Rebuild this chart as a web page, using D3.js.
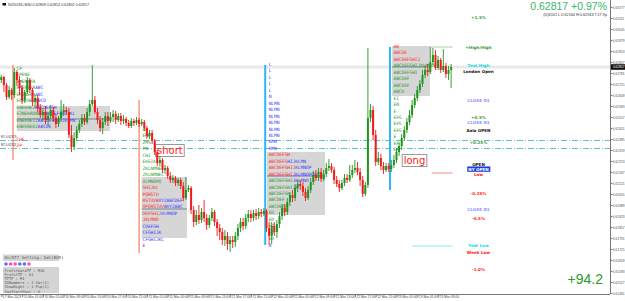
<!DOCTYPE html>
<html><head><meta charset="utf-8">
<script src="https://cdn.jsdelivr.net/npm/d3@7/dist/d3.min.js"></script>
<style>html,body{margin:0;padding:0;background:#fff;}svg{display:block;}</style>
</head><body><svg id="c" width="625" height="301"></svg>
<script>
// ---------- DATA ----------
const opens=[62739,62757,62709,62637,62679,62649,62787,62739,62691,62619,62667,62739,62679,62607,62631,62571,62529,62547,62499,62523,62559,62511,62475,62511,62547,62559,62547,62409,62337,62391,62439,62475,62511,62487,62547,62595,62619,62547,62499,62451,62487,62523,62493,62517,62535,62499,62523,62493,62505,62481,62463,62493,62481,62499,62475,62487,62451,62403,62421,62373,62307,62241,62259,62199,62211,62163,62139,62151,62121,62139,62103,62031,62079,62091,61959,61887,61929,61899,61947,61911,61869,61911,61947,61887,61851,61827,61779,61803,61755,61779,61767,61803,61851,61887,61863,61911,61935,61911,61941,61923,61947,61935,61953,61851,61803,61863,61827,61875,61923,61971,61947,62007,62049,62031,62091,62115,62103,62067,62031,62079,62127,62169,62151,62187,62145,62175,62211,62223,62199,62139,62115,62091,62121,62151,62139,62169,62199,62211,62187,62139,62055,62109,62511,62559,62409,62247,62271,62223,62199,62223,62205,62229,62259,62307,62343,62391,62439,62487,62529,62589,62631,62679,62715,62769,62799,62787,62847,62889,62811,62859,62799,62823,62775,62799];
const highs=[62769,62763,62721,62703,62691,62811,62799,62763,62709,62679,62757,62751,62691,62649,62649,62595,62571,62583,62547,62589,62577,62535,62523,62619,62595,62577,62571,62469,62427,62463,62499,62535,62535,62571,62619,62829,62643,62571,62523,62511,62547,62547,62547,62559,62553,62541,62541,62529,62517,62499,62511,62505,62517,62511,62505,62499,62463,62439,62439,62385,62319,62283,62271,62229,62223,62187,62169,62163,62151,62151,62127,62157,62109,62103,61983,61959,61989,61971,62019,61935,61929,61971,61959,61905,61875,61851,61839,61827,61803,61803,61827,61875,61911,61911,61935,61959,61959,61959,61965,61971,61965,61971,61965,61887,61887,61887,61899,61947,61995,61995,62031,62067,62079,62115,62139,62139,62127,62091,62103,62151,62193,62199,62211,62211,62199,62241,62265,62241,62217,62163,62139,62139,62175,62175,62229,62229,62259,62247,62211,62163,62127,62931,62595,62583,62439,62307,62295,62247,62241,62241,62259,62289,62331,62367,62415,62463,62511,62559,62619,62655,62703,62739,62799,62829,62835,62937,62931,62919,62883,62871,62925,62841,62823,62835];
const lows=[62721,62667,62619,62625,62619,62631,62703,62649,62595,62601,62655,62661,62583,62571,62547,62511,62499,62475,62463,62505,62487,62451,62457,62493,62523,62529,62391,62307,62319,62373,62421,62457,62469,62475,62523,62583,62535,62475,62427,62415,62469,62463,62481,62487,62475,62487,62469,62475,62463,62451,62451,62463,62469,62457,62463,62433,62385,62385,62355,62289,62223,62223,62181,62175,62145,62121,62121,62103,62103,62085,62013,62019,62067,61935,61857,61869,61875,61881,61887,61839,61851,61893,61863,61803,61779,61749,61743,61719,61707,61731,61737,61779,61827,61839,61845,61887,61887,61893,61899,61905,61917,61923,61827,61749,61755,61803,61791,61851,61899,61923,61929,61983,62007,62013,62067,62079,62043,62013,62019,62061,62109,62133,62133,62127,62133,62157,62193,62181,62115,62097,62067,62079,62103,62121,62127,62151,62181,62169,62103,62037,62043,62091,62487,62379,62223,62229,62199,62175,62187,62187,62187,62211,62241,62283,62319,62373,62421,62469,62511,62571,62613,62661,62697,62751,62763,62775,62829,62799,62799,62781,62787,62751,62739,62691];
const closes=[62757,62709,62637,62679,62649,62787,62739,62691,62619,62667,62739,62679,62607,62631,62571,62529,62547,62499,62523,62559,62511,62475,62511,62547,62559,62547,62409,62337,62391,62439,62475,62511,62487,62547,62595,62619,62547,62499,62451,62487,62523,62493,62517,62535,62499,62523,62493,62505,62481,62463,62493,62481,62499,62475,62487,62451,62403,62421,62373,62307,62241,62259,62199,62211,62163,62139,62151,62121,62139,62103,62031,62079,62091,61959,61887,61929,61899,61947,61911,61869,61911,61947,61887,61851,61827,61779,61803,61755,61779,61767,61803,61851,61887,61863,61911,61935,61911,61941,61923,61947,61935,61953,61851,61803,61863,61827,61875,61923,61971,61947,62007,62049,62031,62091,62115,62103,62067,62031,62079,62127,62169,62151,62187,62145,62175,62211,62223,62199,62139,62115,62091,62121,62151,62139,62169,62199,62211,62187,62139,62055,62109,62511,62559,62409,62247,62271,62223,62199,62223,62205,62229,62259,62307,62343,62391,62439,62487,62529,62589,62631,62679,62715,62769,62799,62787,62847,62889,62811,62859,62799,62823,62775,62799,62817];
const priceTicks=[0.63177,0.63111,0.63045,0.62979,0.62913,0.62847,0.62781,0.62715,0.62649,0.62583,0.62517,0.62451,0.62385,0.62319,0.62253,0.62187,0.62121,0.62055,0.61989,0.61923,0.61857,0.61791,0.61725,0.61659,0.61593,0.61527,0.61461];
const timeLabels=["17 Mar 2023","20 Mar 01:00","20 Mar 05:00","20 Mar 09:00","20 Mar 13:00","20 Mar 17:00","20 Mar 21:00","21 Mar 01:00","21 Mar 05:00","21 Mar 09:00","21 Mar 13:00","21 Mar 17:00","21 Mar 21:00","22 Mar 01:00","22 Mar 05:00","22 Mar 09:00","22 Mar 13:00","22 Mar 17:00","22 Mar 21:00","23 Mar 01:00","23 Mar 05:00","23 Mar 09:00"];
const levelNames=["+1.5%","+High/High","Yest High","London Open","CLOSE D1","+0.5%","CLOSE D1","Asia OPEN","+0.25%","OPEN","NY OPEN","Low","-0.25%","CLOSE D1","-0.5%","Yest Low","Week Low","-1.0%"];
const levelPrices=[0.63111,0.62931,0.62823,0.62787,0.62613,0.62511,0.62481,0.62433,0.62361,0.62229,0.62202,0.62169,0.62055,0.61959,0.61905,0.61743,0.61701,0.61599];
const levelKinds=["up","up","yest","sess","close","up","close","sess","up","sess","ny","down","down","close","down","yest","down","down"];
const lastPrice=0.62817, dayChange="+0.97%";
const profit="+94.2";
const signalBars=[4.5,53,101.5,149.5];
const signalKinds=["sell","sell","buy","buy"];
const signalTop=[0.62829,0.62619,0.62829,0.62937];
const signalBottom=[0.62259,0.61701,0.61749,0.62079];
const boxStart=[6,54,102.2,150.3], boxEnd=[41.8,71.4,124.5,164.9];
const boxTop=[0.62583,0.62157,0.62307,0.62943], boxBottom=[0.62433,0.61791,0.61929,0.62643];
const boxMid=[0.62505,0.61965,0.62163,0.62817];
const pivotLines=[0.62379,0.62331];
const pivotNames=["R1 0.62379","R2 0.62331"];
const settings=["ProfitDataTF : M30","ProfitTF     : D1","TFTF         : M1","IDNumbers    : 1 Var(1)","ShowRight    : 1 Pip(1)","DayStartHour : 0"];
const colA=[[["CP","g"]],[["EPENE","g"]],[["EMENEKR","g"]],[["EMENEKR","g"],["ABC","b"]],[["EMENEKR","g"],["ABC","b"]],[["ENEKREZ","g"],["ABCD","b"]],[["ENEKREZ","g"],["ABCDEFGH","b"]],[["E2NEKRDNEZ","g"],["ABCDEFGHIJKL","b"]],[["ENEKREZZ","g"],["ABCDEFGHIJKLMN","b"]],[["ENEKREDZ","g"],["ABCDE","b"]],[["",""]],[["CHE","r"]],[["ZP","r"]]];
const colB=[[["AB","g"]],[["ENE","g"]],[["2MS","g"]],[["PN","g"]],[["CHI","g"]],[["EKEIK","g"]],[["ZKLNMNE","g"]],[["ZKLNMNEC","g"]],[["XLMNOPQ","g"]],[["GHIJKL","r"]],[["PQRSTU","r"]],[["RSTUVW","r"],["XYZABCDEF","b"]],[["OPQRSTUV","r"],["WXYZABC","b"]],[["DEFGHIJ","r"],["KLMNOP","b"]],[["JKLMNO","r"]],[["CDEFGH","b"]],[["CFGHIJK","b"]],[["CFGHIJKL","b"]],[["E","b"]]];
const colC=[[["L","b"]],[["L","b"]],[["L","b"]],[["L","b"]],[["L","b"]],[["N","b"]],[["NLMN","b"]],[["NLMN","b"]],[["NLMN","b"]],[["NLMN","b"]],[["NLMN","b"]],[["NLMN","b"]],[["KMN","b"]],[["KMN","b"]],[["ABCDEFGH","r"]],[["ABCDEFG","r"],["HIJKLMN","b"]],[["ABCDEFGHIJ","r"],["KLMNOP","b"]],[["ABCDEFGHI","r"],["JKLMNOPQR","b"]],[["ABCDEFGHI","g"],["JKLMNO","b"]],[["ABCDEFGHI","g"],["JK","b"]],[["ABCDEFGH","g"]],[["ABCDEF","g"]],[["ABCDEFG","g"]],[["ED","g"]],[["ED","g"]],[["ED","g"]],[["ED","g"]],[["ED","g"]],[["0","b"]]];
const colD=[[["AB","r"]],[["ABCDE","r"]],[["ABCDEFGHIJ","r"]],[["ABCDEFGHIJKLMNOP","g"]],[["ABCDEFGHI","g"]],[["ABCDEF","g"]],[["ABCDEF","g"]],[["ABCD","g"]],[["EI","g"]],[["EN","g"]],[["E","g"]],[["EFG","g"]],[["EFG","g"]],[["EFG","g"]],[["E","g"]],[["EF","g"]],[["EF","g"]]];
const columns=[colA,colB,colC,colD];
const columnTop=[0.62805,0.62439,0.62829,0.62937];

// ---------- DRAW ----------
const svg=d3.select("#c");
const n=opens.length;
const plotR=610, plotB=294;
const xs=d3.scaleLinear().domain([-0.5,n-0.5]).range([0,n*2.6]);
const y=d3.scaleLinear().domain([0.63219,0.61461]).range([0,293]);
const P=v=>v/100000;
const green="#1f951f", red="#f51a1a";
const tc={g:"#2f9a2f",b:"#3a3aff",r:"#ff2b2b","":"#000"};
const SANS="Liberation Sans, Arial, sans-serif";

// current price band
svg.append("rect").attr("x",0).attr("width",plotR).attr("y",y(lastPrice)-1.5).attr("height",3).attr("fill","#e9e9e9");

// boxes
boxStart.forEach((b,i)=>{
  svg.append("rect").attr("x",xs(b)).attr("width",xs(boxEnd[i])-xs(b))
    .attr("y",y(boxTop[i])).attr("height",y(boxBottom[i])-y(boxTop[i])).attr("fill","#d6d6d6");
  svg.append("line").attr("x1",xs(b)).attr("x2",xs(boxEnd[i])).attr("y1",y(boxMid[i])).attr("y2",y(boxMid[i]))
    .attr("stroke",i==2?"#8a6aa8":"#6f8596").attr("stroke-width",1);
});

// pivot dash-dot lines
pivotLines.forEach(p=>svg.append("line").attr("x1",0).attr("x2",plotR).attr("y1",y(p)+0.5).attr("y2",y(p)+0.5)
  .attr("stroke","#5cc4c4").attr("stroke-width",1).attr("stroke-dasharray","6,2,1,2"));

// signal vertical lines
signalBars.forEach((b,i)=>{
  const buy=signalKinds[i]=="buy";
  svg.append("line").attr("x1",xs(b)).attr("x2",xs(b)).attr("y1",y(signalTop[i])).attr("y2",y(signalBottom[i]))
    .attr("stroke",buy?"#2bb7f5":"#f4876a").attr("stroke-width",buy?2:1.3);
});

// level lines near the end
const lastX=xs(n-1)+1.5;
svg.append("line").attr("x1",xs(165)).attr("x2",lastX).attr("y1",y(0.62937)).attr("y2",y(0.62937)).attr("stroke","#9fd89f");
svg.append("line").attr("x1",xs(165.5)).attr("x2",lastX).attr("y1",y(0.62181)).attr("y2",y(0.62181)).attr("stroke","#f08a8a");
svg.append("line").attr("x1",xs(158)).attr("x2",lastX).attr("y1",y(0.61743)).attr("y2",y(0.61743)).attr("stroke","#a8f4f4").attr("stroke-width",1.5);

// column texts
function drawColumn(rows,x0,topPrice){
  const y0=y(topPrice);
  rows.forEach((segs,r)=>{
    if(!segs[0][0]) return;
    const t=svg.append("text").attr("x",x0).attr("y",y0+r*6.45).attr("dominant-baseline","middle")
      .attr("font-family","DejaVu Sans Mono, monospace").attr("font-size",4.6).attr("letter-spacing",-0.1);
    segs.forEach(s=>t.append("tspan").attr("fill",tc[s[1]]).text(s[0]));
  });
}
columns.forEach((c,i)=>drawColumn(c,xs(signalBars[i])+3.5,columnTop[i]));

// candles
const g=svg.append("g");
d3.range(n).forEach(i=>{
  const o=P(opens[i]),c=P(closes[i]),h=P(highs[i]),l=P(lows[i]);
  const col=c>=o?green:red; const cx=xs(i);
  g.append("line").attr("x1",cx).attr("x2",cx).attr("y1",y(h)).attr("y2",y(l)).attr("stroke",col).attr("stroke-width",0.9);
  const t=y(Math.max(o,c)),b=y(Math.min(o,c));
  g.append("rect").attr("x",cx-1).attr("width",2).attr("y",t).attr("height",Math.max(0.8,b-t)).attr("fill",col);
});

// short / long tags
function tag(txt,bar,price){
  const tx=xs(bar), ty=y(price);
  const tt=svg.append("text").attr("x",tx+1.5).attr("y",ty).attr("dominant-baseline","middle")
    .attr("font-family","DejaVu Sans, sans-serif").attr("font-size",10).attr("fill","#ff2020").text(txt);
  const bb=tt.node().getBBox();
  svg.insert("rect","text").attr("x",tx).attr("y",bb.y-0.5).attr("width",bb.width+3).attr("height",bb.height+1)
    .attr("fill","none").attr("stroke","#9a9a9a").attr("stroke-width",1);
}
tag("short",59.3,0.62313);
tag("long",154.2,0.62253);

// level labels
const lvColor={up:"#3aa03a",down:"#ff2020",yest:"#14d8e0",sess:"#111",close:"#8c8cff",ny:"#fff"};
levelNames.forEach((t,i)=>{
  const ty=y(levelPrices[i]);
  const k=levelKinds[i];
  const tx=svg.append("text").attr("x",478.5).attr("y",ty).attr("text-anchor","middle").attr("dominant-baseline","middle")
    .attr("font-family","DejaVu Sans, sans-serif").attr("font-weight","bold").attr("font-size",4.1).attr("fill",lvColor[k]).text(t);
  if(k=="ny"){const bb=tx.node().getBBox();svg.insert("rect","text").attr("x",bb.x-1).attr("y",bb.y-0.2).attr("width",bb.width+2).attr("height",bb.height+0.4).attr("fill","#2040e0");tx.raise();}
});

// axes
svg.append("line").attr("x1",plotR+0.5).attr("x2",plotR+0.5).attr("y1",0).attr("y2",plotB).attr("stroke","#777");
svg.append("line").attr("x1",0).attr("x2",plotR).attr("y1",plotB+0.5).attr("y2",plotB+0.5).attr("stroke","#777");
const ya=svg.append("g").attr("transform",`translate(${plotR+0.5},0)`)
  .call(d3.axisRight(y).tickValues(priceTicks).tickSize(2).tickFormat(d3.format(".5f")));
ya.select(".domain").remove();
ya.selectAll("text").attr("font-size",3.25).attr("fill","#555").attr("x",2.4).attr("font-family",SANS);
ya.selectAll("line").attr("stroke","#777");
// current price tag
svg.append("rect").attr("x",plotR+1).attr("y",y(lastPrice)-2.8).attr("width",14).attr("height",5.6).attr("fill","#111");
svg.append("text").attr("x",plotR+2.9).attr("y",y(lastPrice)).attr("dominant-baseline","middle").attr("font-size",3.25)
  .attr("font-family",SANS).attr("fill","#fff").text(d3.format(".5f")(lastPrice));

const tIdx=timeLabels.map((d,i)=>i*8);
const xa=svg.append("g").attr("transform",`translate(0,${plotB+0.5})`)
  .call(d3.axisBottom(xs).tickValues(tIdx).tickSize(2.5).tickFormat((d,i)=>timeLabels[i]));
xa.select(".domain").remove();
xa.selectAll("line").attr("stroke","#777");
xa.selectAll("text").attr("font-size",3.3).attr("fill","#444").attr("text-anchor","start").attr("x",1).attr("y",1.6)
  .attr("font-family",SANS);

// title top-left
svg.append("rect").attr("x",2.5).attr("y",3).attr("width",3.5).attr("height",2.5).attr("fill","#111");
svg.append("text").attr("x",8).attr("y",4.6).attr("dominant-baseline","middle").attr("font-size",3.7).attr("fill","#333")
  .attr("font-family",SANS).text("NZDUSD,M30  0.62809 0.62852 0.62802 0.62817");

// pivot labels on left
pivotNames.forEach((t,i)=>svg.append("text").attr("x",1).attr("y",y(pivotLines[i])-2.2)
  .attr("font-size",3).attr("fill","#444").attr("font-family",SANS).text(t));

// top right info
svg.append("text").attr("x",607).attr("y",7.5).attr("text-anchor","end").attr("dominant-baseline","middle")
  .attr("font-family",SANS).attr("font-size",10.5).attr("fill","#3db46d")
  .text(d3.format(".5f")(lastPrice)+" "+dayChange);
svg.append("text").attr("x",607).attr("y",15).attr("text-anchor","end").attr("dominant-baseline","middle")
  .attr("font-family",SANS).attr("font-size",3.8).attr("fill","#333")
  .text("(D)6101 L:0.62164 H:0.62943 T:17.9p");

// profit
svg.append("text").attr("x",603).attr("y",280).attr("text-anchor","end").attr("dominant-baseline","middle")
  .attr("font-family",SANS).attr("font-size",14).attr("fill","#2a9a2a").text(profit);

// settings panel bottom-left
svg.append("rect").attr("x",3).attr("y",254.5).attr("width",56).attr("height",6.5).attr("fill","#d4d4d4");
svg.append("text").attr("x",4.5).attr("y",257.8).attr("dominant-baseline","middle").attr("font-size",4.1).attr("fill","#555")
  .attr("font-family","DejaVu Sans Mono, monospace").text("On/Off Setting: Del(BUR)");
const dots=["#5a6cff","#ff4fb0","#ff4fb0","#5a6cff","#5a6cff","#ff4fb0"];
dots.forEach((c,i)=>svg.append("circle").attr("cx",6+i*4.6).attr("cy",264).attr("r",1.8).attr("fill",c));
svg.append("rect").attr("x",3).attr("y",267).attr("width",56).attr("height",26).attr("fill","#d4d4d4");
settings.forEach((t,i)=>svg.append("text").attr("x",4.5).attr("y",270.5+i*4.2).attr("dominant-baseline","middle")
  .attr("font-size",3.7).attr("fill","#555").attr("font-family","DejaVu Sans Mono, monospace").text(t));
</script></body></html>
